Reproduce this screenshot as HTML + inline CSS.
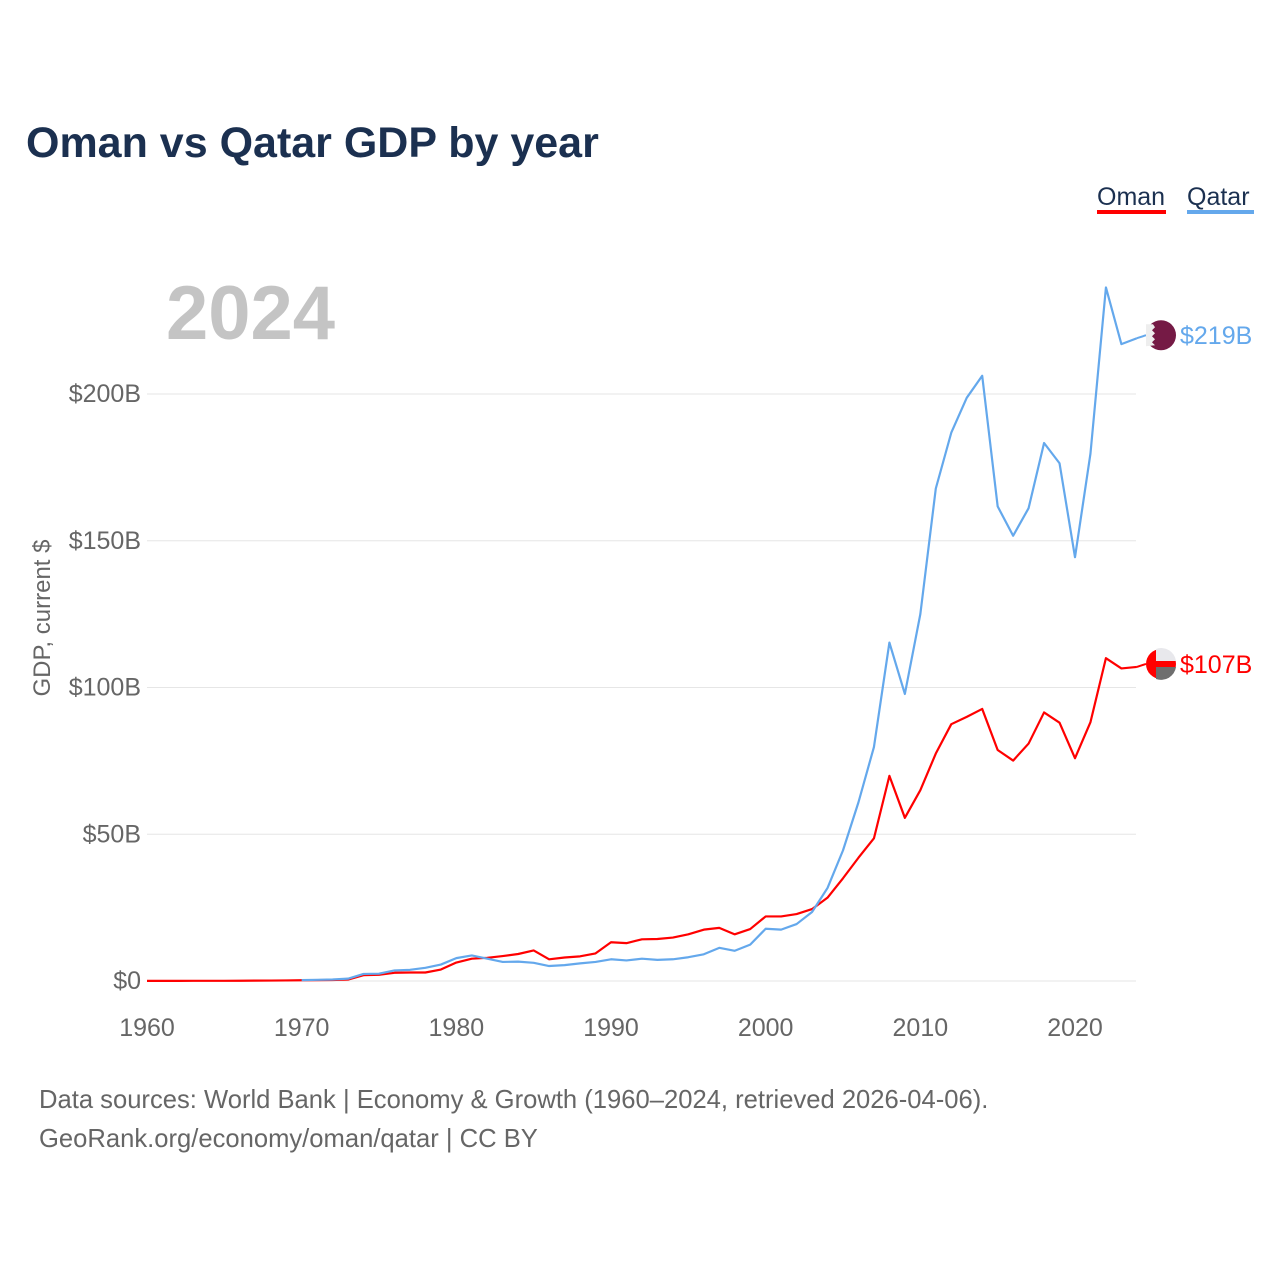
<!DOCTYPE html>
<html><head><meta charset="utf-8"><style>
body{margin:0;background:#fff;}
svg{display:block;font-family:"Liberation Sans",sans-serif;}
</style></head><body>
<svg id="chart" width="1280" height="1280" viewBox="0 0 1280 1280">
<text x="26" y="157" font-size="43" font-weight="bold" fill="#1b3050">Oman vs Qatar GDP by year</text>
<g><text x="1097" y="205" font-size="25" fill="#1b3050">Oman</text><rect x="1097" y="210" width="69" height="4" fill="#ff0000"/></g>
<g><text x="1187" y="205" font-size="25" fill="#1b3050">Qatar</text><rect x="1187" y="210" width="67" height="4" fill="#64a8ec"/></g>
<text x="166" y="339" font-size="76" font-weight="bold" fill="#c4c4c4">2024</text>
<text transform="translate(50,618) rotate(-90)" text-anchor="middle" font-size="24" fill="#666">GDP, current $</text>
<g id="grid"></g><g id="xt"></g><g id="series"></g>
<text x="39" y="1108" font-size="25.6" fill="#666">Data sources: World Bank | Economy &amp; Growth (1960–2024, retrieved 2026-04-06).</text>
<text x="39" y="1147" font-size="25.6" fill="#666">GeoRank.org/economy/oman/qatar | CC BY</text>
</svg>
<script>
const yTicks=[0,50,100,150,200];
const yTickLabels=["$0","$50B","$100B","$150B","$200B"];
const xTicks=[1960,1970,1980,1990,2000,2010,2020];
const omanYears=[1960,1961,1962,1963,1964,1965,1966,1967,1968,1969,1970,1971,1972,1973,1974,1975,1976,1977,1978,1979,1980,1981,1982,1983,1984,1985,1986,1987,1988,1989,1990,1991,1992,1993,1994,1995,1996,1997,1998,1999,2000,2001,2002,2003,2004,2005,2006,2007,2008,2009,2010,2011,2012,2013,2014,2015,2016,2017,2018,2019,2020,2021,2022,2023,2024];
const omanGDP=[0.05,0.05,0.05,0.06,0.06,0.07,0.08,0.12,0.15,0.2,0.26,0.3,0.35,0.5,2.0,2.1,2.8,2.9,2.9,3.9,6.3,7.6,7.9,8.5,9.2,10.4,7.4,8.0,8.4,9.4,13.2,12.9,14.2,14.3,14.8,15.9,17.5,18.1,15.9,17.7,22.0,22.0,22.8,24.5,28.4,35.0,42.0,48.6,69.9,55.6,65.0,77.5,87.5,90.0,92.7,78.7,75.1,80.9,91.5,88.0,75.9,88.2,110.0,106.5,107.0];
const qatarYears=[1970,1971,1972,1973,1974,1975,1976,1977,1978,1979,1980,1981,1982,1983,1984,1985,1986,1987,1988,1989,1990,1991,1992,1993,1994,1995,1996,1997,1998,1999,2000,2001,2002,2003,2004,2005,2006,2007,2008,2009,2010,2011,2012,2013,2014,2015,2016,2017,2018,2019,2020,2021,2022,2023,2024];
const qatarGDP=[0.3,0.4,0.5,0.8,2.4,2.5,3.6,3.8,4.5,5.6,7.8,8.7,7.6,6.5,6.6,6.2,5.1,5.4,6.0,6.5,7.4,7.0,7.6,7.2,7.4,8.1,9.1,11.3,10.3,12.4,17.8,17.5,19.4,23.5,31.7,44.5,60.9,79.7,115.3,97.8,125.0,167.8,186.8,198.7,206.2,161.7,151.7,161.1,183.3,176.4,144.4,179.7,236.3,217.0,219.0];
const NS="http://www.w3.org/2000/svg";
const X=y=>147+(y-1960)*(928/60);
const Y=v=>981-v*(587/200);
function mk(t,a,p){const e=document.createElementNS(NS,t);for(const k in a)e.setAttribute(k,a[k]);p.appendChild(e);return e;}
const grid=document.getElementById('grid');
yTicks.forEach((v,i)=>{
 const l=mk('line',{x1:147,x2:1136,y1:Y(v),y2:Y(v),stroke:'#e6e6e6','stroke-width':1},grid);
 
 
 const t=mk('text',{x:141,y:Y(v)+8,'text-anchor':'end','font-size':25,fill:'#666'},grid);
 t.textContent=yTickLabels[i];
 
 
});
const xt=document.getElementById('xt');
xTicks.forEach(y=>{
 const t=mk('text',{x:X(y),y:1036,'text-anchor':'middle','font-size':25,fill:'#666'},xt);
 t.textContent=y;
 
 
});
const s=document.getElementById('series');
function line(ys,vs,c,name){
 const p=mk('polyline',{points:ys.map((y,i)=>X(y)+','+Y(vs[i])).join(' '),fill:'none',stroke:c,'stroke-width':2.2,'stroke-linejoin':'round'},s);
 
 
}
line(omanYears,omanGDP,'#ff0000','oman-line');
line(qatarYears,qatarGDP,'#64a8ec','qatar-line');
const lo=omanGDP[omanGDP.length-1], lq=qatarGDP[qatarGDP.length-1];
const cx=1161;
const qy=Y(lq)-3, oy=Y(lo)-3;
mk('line',{x1:X(2024),y1:Y(lq),x2:cx-15,y2:qy,stroke:'#64a8ec','stroke-width':2},s);
mk('line',{x1:X(2024),y1:Y(lo),x2:cx-15,y2:oy,stroke:'#ff0000','stroke-width':2},s);
const q=mk('g',{},s);


mk('circle',{cx:cx,cy:qy,r:15,fill:'#751a45'},q);
mk('path',{d:`M${cx-15},${qy-11} L${cx-8},${qy-11} L${cx-6},${qy-8} L${cx-9},${qy-5} L${cx-6},${qy-2} L${cx-9},${qy+1} L${cx-6},${qy+4} L${cx-9},${qy+7} L${cx-6},${qy+10} L${cx-15},${qy+11} Z`,fill:'#eee'},q);
const o=mk('g',{},s);


mk('circle',{cx:cx,cy:oy,r:15,fill:'#ff0000'},o);
mk('path',{d:`M${cx-5},${oy-15} A15 15 0 0 1 ${cx+15},${oy-3} L${cx-5},${oy-3} Z`,fill:'#e8e8ec'},o);
mk('path',{d:`M${cx-5},${oy+3} L${cx+15},${oy+3} A15 15 0 0 1 ${cx-5},${oy+15} Z`,fill:'#6e6e6e'},o);
const tq=mk('text',{x:1180,y:qy+9,'font-size':25,fill:'#64a8ec'},s);
tq.textContent='$'+Math.round(lq)+'B';


const to=mk('text',{x:1180,y:oy+9,'font-size':25,fill:'#ff0000'},s);
to.textContent='$'+Math.round(lo)+'B';


</script>
</body></html>
